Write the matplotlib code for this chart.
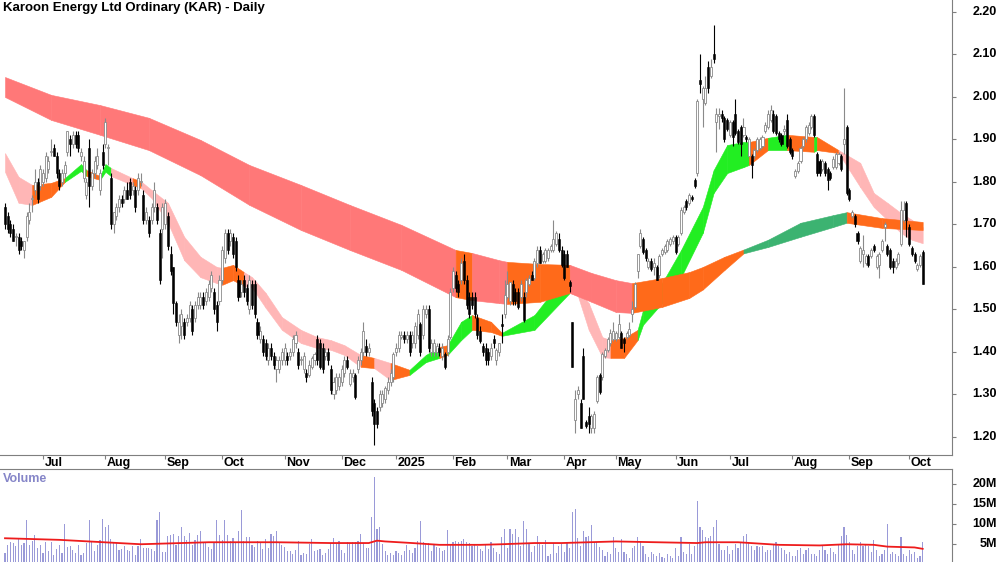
import numpy as np
import pandas as pd
import matplotlib
matplotlib.use('Agg')
import matplotlib.pyplot as plt
from matplotlib.transforms import blended_transform_factory

plt.rcParams['font.family'] = ['Liberation Sans', 'DejaVu Sans']

# --- trading calendar (ASX), one bar per trading day
asx_holidays = ['2024-12-25', '2024-12-26', '2025-01-01', '2025-01-27',
                '2025-04-18', '2025-04-21', '2025-04-25', '2025-06-09']
dates = pd.bdate_range('2024-06-11', '2025-10-08').drop(pd.to_datetime(asx_holidays))

# --- daily prices in cents
open_c = [174,172,170,169,167,167,166,164,167,171,
          176,178,180,179,180,181,183,187,188,186,
          182,180,182,187,190,189,191,191,186,181,
          177,188,179,182,184,178,187,189,188,181,
          170,172,174,176,176,178,180,178,178,178,
          180,177,171,171,171,174,174,168,169,170,
          172,163,160,151.5,144,146,147,147,148,150,
          148,151,151,153,152,153,155,154,151,152,
          157,162,168,166,167,166,157,154,157,155,
          150,156,156,147,143,143,142,138,141,139,
          136,136,138,138,139,139,140,142,140,138,
          136,135,134.5,136.5,138,143,142,141,139,140,
          136,130,131,132,133,135,138,132.5,134,134.5,
          136,138,140,141.5,140,133,128,126,127,128,
          129,131,133,134,140,141,143.5,144,143,144,
          142,142,144,146.5,144,149,150,140,140,140,
          141,139,139.5,140,143.5,155,158,156,157,161.5,
          157,153,153,153,148,145,141.5,141,140,139,
          143,138,140,146.5,149,153,152,156,154,154,
          153,153,154,156,158,157.5,161,164,161.5,161.5,
          162,164,164,165.5,166.5,164,163,163,156.5,147,
          124,130,128,139,123.5,125,122,122,128.5,134.5,
          134,139,140.5,142,143,143,143.5,144.5,143,143.5,
          144,149,150.5,159,165,166.5,164,160,161.5,160,
          160,158,163,163.5,164,165.5,166,167,165.5,168,
          173,175.5,175,176.5,180.5,182,204,199.5,198.5,207,
          205,210,194,195.5,196,195,194.5,191,194,196,
          192,193,191,190.5,186,186,186,187.5,188,188.5,
          192,193,194.5,196,195.5,191.5,191,192,194.5,190,
          187.5,181.5,182.5,185,188.5,190,191.5,193,195.5,186.5,
          185,183,184.5,183,182,183.5,183.5,184.5,186,189,
          193,178,172,172,168,161.5,163,161,162.5,162.5,
          165,160,160.5,164,169.5,165,164,161.5,160,161,
          165.5,171,175,169.5,164.5,163,159.5,160.5,163.5]
high_c = [175,173,171,170,168,168,167,166,173,175,
          177,183,181,184,183,187,186,190,189,187,
          183,183,185,192,191,192,192,192,188,186,
          181,190,183,186,188,183,189,195,189,182,
          173,175,177,177,179,180,181,180,179,182,
          182,178,174,172,175,180,175,169,175,176,
          173,165,160,152,149,150,148,149,152,151,
          152,154,154,154,155,157,159,155,152,158,
          165,169,169,169,168,167,158,157,158,156,
          158,157,157,148,146,144,143,142,142,140,
          139,139,141,142,140,141,144,145,141,139,
          140,136,138,139,140,144,143,142,141,141,
          137,134,135,135,137,139,139,136,136,135,
          139,141,147,143,142,134,129,127,131,131,
          132,134,136,140,142,145,145,145,145,145,
          145,147,150,147,151,151,151,143,143,142,
          142,142,140,144,155,160,159,157,162,163,
          158,154,154,154,149,146,142,142,141,142,
          144,141,142,149,157,159,156.5,157,155,155,
          157,154,157.5,158,159,162,165,165,163.5,164.5,
          164.5,165.5,171,168.5,168,165,164,164,157,147,
          131,132,129,141,124,127,125.5,126,134.5,135,
          140,141,143.5,145.5,147,145,149,145,143.5,145,
          147,152,156.5,163,169,167,164.5,162,162,162,
          160.5,163,164.5,165.5,166.5,167,167.5,167.5,167.5,174,
          174.5,176,177.5,177,181,199.5,210,202.5,205,208.5,
          209,217,197.5,197.5,197,195.5,195,194.5,194.5,199.5,
          192.5,193.5,195,191,190.5,186.5,188,190.5,190.5,191,
          194,197,198,197,196,192,191.5,193.5,196,190.5,
          188,183,185,188.5,190.5,193.5,194,196,196,187,
          185.5,185.5,185,183.5,182.5,186,187,187,186.5,202,
          193.5,178.5,173.5,172.5,168.5,165,167.5,163,163,164.5,
          165.5,163,163.5,166.5,170.5,165.5,164.5,162,162,163.5,
          175.5,175.5,175.5,170,165,163.5,161,163,164]
low_c = [169,168,167,166,165,163,164,162,166,170,
         173,177,175,178,179,180,182,186,186,181,
         178,179,181,186,186,188,188,187,185,180,
         176,174,178,181,183,177,183,188,184,169,
         168,171,173,174,175,176,176,177,173,177,
         179,170,170,167,170,173,170,156,162,169,
         164,158,149,146,142,143,143,146,147,144,
         147,150,150,150,151,152,154,149,145,151,
         156,161,163,165,162,159,152,153,153,151,
         149,150,148,143,142,139,138,137,138,136,
         133,135,137,137,137,138,139,141,136,137,
         135,133,134,136,137,137,136,135,138,137,
         130,129,130,131,132,134,136,132,133,129,
         135,137,139,139,139,125,118,122,126,127,
         128,130,132,133,139,140,143,142,142,139,
         141,141,143,139,143,148,140,139,139,139,
         139,138,136,139,143,154,154,153,156,156,
         150,148,150,148,143,142,139,137,137,138,
         141,137,139,142,148,152.5,151,151,151,150,
         152,147,153,155.5,157,157,160,161,161,161,
         161.5,163.5,163.5,165,163.5,160,157,160,154,136.5,
         121,129,122,129,122,121,121,121,128,130,
         133.5,138.5,140,141.5,142.5,142.5,143,141,140,143,
         143.5,147,150,157.5,164.5,163,161.5,159.5,159,158,
         157,157.5,162.5,163,163.5,165,165.5,163,165,167.5,
         172.5,173.5,174.5,175.5,178.5,181.5,201,193,198,201,
         204.5,208,187,192.5,194,189.5,192,190.5,188.5,191,
         189,186,190.5,189.5,186,181,185.5,187,187.5,188,
         191.5,192.5,194,191.5,191,189.5,188.5,191,188,186.5,
         185.5,181,182,184.5,188,189.5,191,192.5,190.5,181.5,
         181.5,182.5,181.5,178,180.5,183,183,184,182.5,186.5,
         177,175.5,171.5,169.5,165.5,161,160,160.5,160,162,
         163.5,159.5,157.5,163.5,166,162.5,159.5,158.5,159.5,160.5,
         165,170.5,167,165,162.5,161,159,160,156]
close_c = [170,169,168,166,167,164,165,166,172,173,
           176,180,176,183,182,186,185,187,186,182,
           179,182,184,192,189,191,189,188,187,185,
           180,179,182,185,186,182,184,194,188,170,
           173,174,176,175,178,176,177,179,174,181,
           180,171,173,168,174,178,171,157,174,175,
           165,159,151.5,147,147,149,144,148,151,145,
           151,153,153,151,154,156,158,150,147,157,
           164,168,164,168,163,160,153,156,154,152,
           157,151,149,144,145,140,139,141,139,137,
           138,138,140,141,138,140,143,144,137,138,
           139,134,137,138.5,139.5,138,136.5,136,140,138,
           131,133,134,134,136,138,136.5,135,135,129.5,
           138,140,145,140,141,126,123,123,130,130,
           131.5,133,135,139.5,141,144,144,143,144,140,
           144,146,149,140,150,150,141,142,142,141.5,
           140,141,136.5,143,154,159,155,154,161,157,
           151,149,151,149,144,142.5,140,138,138,141,
           142,140.5,142,146,153.5,156,156.5,152,152,150.5,
           156,147.5,157,157.5,157,161.5,164,161,163,164,
           164,165,166.5,168,164,160.5,157.5,160,155.5,136.5,
           129,131,122,129,122.5,123,125,125.5,134,130.5,
           139.5,140.5,143,144.5,145,144.5,146.5,141,142,144.5,
           145.5,150,156,163,168,163.5,162,161.5,159.5,161,
           157,162.5,164,165,166,166.5,167,163.5,167,173.5,
           174,174,177,176,179,199,203,202,202,202,
           207,209,196,196,195,190,192.5,194,190.5,191.5,
           189.5,189,193,190,190,184,187.5,190,190,190.5,
           193.5,196,197,192,191.5,190,189,192.5,188.5,187,
           186,182.5,184.5,188,190,193,193.5,195.5,191,182,
           182,185,182,180.5,181,185.5,186.5,186.5,183,190,
           177.5,176,173,170,166,164.5,164,162.5,160.5,164,
           164,162.5,163,166,170,163,160,160,161.5,163,
           173.5,173.5,171,165.5,163,161.5,160.5,162.5,156]

# --- daily volume, millions
volume_m = [2.65,4.75,5.4,5.2,4.35,6.4,4.75,5.2,11.0,4.75,
            5.6,7.1,3.9,4.6,2.65,5.4,3.1,5.4,2.25,3.75,
            4.75,2.65,9.9,4.1,4.35,3.5,2.65,4.75,2.25,2.65,
            5.2,11.0,5.6,3.1,4.75,6.0,11.25,9.1,9.6,6.25,
            5.4,5.2,3.5,3.75,4.35,3.5,3.1,4.35,2.25,4.35,
            6.25,3.9,3.9,3.9,3.75,3.1,11.0,12.9,2.9,2.9,
            6.85,7.25,7.4,4.75,6.85,9.1,6.85,6.0,7.7,4.75,
            6.0,7.25,8.25,5.2,5.2,4.1,3.75,5.4,11.0,7.25,
            6.0,11.0,7.25,5.6,6.4,5.2,8.1,13.5,5.75,6.6,
            6.6,4.75,4.1,5.75,5.4,3.75,6.25,3.9,7.4,6.85,
            8.1,5.4,4.75,4.1,3.1,3.1,2.4,3.5,5.75,2.25,
            2.65,2.4,4.9,6.25,3.1,3.5,3.75,2.25,2.65,3.75,
            5.2,6.4,5.2,5.75,3.5,2.65,5.4,5.2,5.4,5.4,
            5.75,7.4,5.2,3.9,3.9,11.8,21.8,8.75,9.1,4.9,
            3.1,2.25,2.65,2.25,3.1,2.65,2.25,3.1,4.6,3.5,
            2.65,3.9,5.75,10.8,5.4,5.2,5.2,3.1,4.75,4.1,
            3.9,3.1,3.5,8.5,4.75,5.4,5.75,5.4,5.75,6.25,
            5.4,5.2,4.35,4.75,4.35,3.75,3.1,4.6,3.75,5.4,
            3.9,2.9,2.4,6.6,8.75,4,8.75,7.4,8.75,6.6,
            4.5,10.6,8.75,5,3,4.5,7,5,4.8,6,
            2,2.5,5.2,2.8,4.5,5,3,5.2,4,13,
            13.7,6.5,4.5,8.3,6.6,7,9.7,5.5,5.5,4.3,
            3.5,2,3,2.5,6.7,4,3,6.3,3,2.5,
            1.5,4,4.5,6.8,5.8,4.5,2.5,1.8,3,2.5,
            2,2.8,1.8,1.5,2.5,2,1.5,4,2,6.8,
            3,2.5,5,2.5,4.5,15.7,9.3,8.5,6.7,6.5,
            7,9.3,10.9,5,3.5,3.5,4.5,2.5,3.5,5,
            4,5.5,7,7.5,5.5,4.5,3.5,4.5,4.3,4.5,
            3,3.5,3.5,5,5.5,4.5,4,3.5,2.5,3,
            2,2,3.5,4,2.5,3.5,4,2.5,2.5,2,
            3.5,4.5,3.5,2.5,4,3,2.5,5,7,9.3,
            7.3,5.5,3.5,2.5,4.5,5.5,4.5,5,4.5,3,
            6,3.5,2,2.5,3.5,10,2.5,3,2.5,2,
            6.7,2.5,2,3.5,2.5,3,1.5,2,5.4]

# volume moving average (red line), sampled at bar numbers
vma_bar = [0, 20, 50, 75, 100, 120, 134, 137, 140, 150, 160, 175, 183, 195,
           205, 215, 225, 240, 255, 258, 270, 285, 300, 310, 320, 325, 335, 338]
vma_m = [6.4, 6.0, 4.9, 5.4, 5.4, 5.2, 5.2, 5.8, 5.6, 5.2, 4.75, 4.75, 4.9, 5.2,
         5.2, 5.4, 5.6, 5.4, 5.2, 5.4, 5.4, 4.75, 4.6, 4.9, 4.75, 4.3, 4.1, 3.75]

# short-term moving average ribbon: bar, upper, lower, state of following segment
short_bar = [0, 5, 10, 17, 22, 28, 30, 35, 37, 39, 47, 50, 54, 60, 66, 72, 78, 80, 84, 88,
             91, 96, 102, 109, 115, 120, 125, 131, 136, 142, 149, 155, 160, 163, 168, 172,
             179, 183, 195, 208, 211, 215, 220, 223, 228, 233, 235, 242, 249, 257, 261,
             266, 272, 274, 281, 288, 298, 299, 307, 315, 320, 325, 330, 334, 338]
short_hi = [1.868, 1.812, 1.793, 1.798, 1.809, 1.842, 1.828, 1.814, 1.842, 1.833, 1.809,
            1.802, 1.781, 1.751, 1.671, 1.624, 1.600, 1.598, 1.605, 1.588, 1.576, 1.539,
            1.482, 1.452, 1.435, 1.428, 1.416, 1.393, 1.386, 1.374, 1.358, 1.393, 1.412,
            1.416, 1.471, 1.487, 1.471, 1.445, 1.487, 1.593, 1.546, 1.515, 1.435, 1.428,
            1.433, 1.452, 1.499, 1.562, 1.640, 1.741, 1.828, 1.887, 1.894, 1.894, 1.904,
            1.911, 1.906, 1.906, 1.875, 1.845, 1.774, 1.751, 1.727, 1.711, 1.694]
short_lo = [1.824, 1.751, 1.746, 1.765, 1.800, 1.826, 1.814, 1.805, 1.824, 1.814, 1.793,
            1.786, 1.762, 1.704, 1.616, 1.576, 1.562, 1.558, 1.569, 1.555, 1.551, 1.504,
            1.452, 1.421, 1.409, 1.405, 1.393, 1.365, 1.362, 1.334, 1.346, 1.376, 1.386,
            1.393, 1.428, 1.452, 1.447, 1.438, 1.452, 1.539, 1.532, 1.452, 1.388, 1.386,
            1.386, 1.428, 1.464, 1.515, 1.576, 1.680, 1.774, 1.821, 1.835, 1.840, 1.875,
            1.875, 1.871, 1.875, 1.868, 1.788, 1.741, 1.711, 1.680, 1.664, 1.656]
short_state = "ppooGGoGGp" "oppppppoop" "pppppppopo" "GGoGGooGGp" "pppooGGGGG" "GGGoGoGopp" "pppp"

# long-term moving average ribbon
long_bar = [0, 17, 35, 53, 72, 90, 109, 127, 146, 166, 172, 182, 185, 197, 208, 216, 225,
            231, 242, 252, 257, 265, 272, 281, 293, 305, 310, 323, 338]
long_hi = [2.047, 2.005, 1.981, 1.951, 1.899, 1.840, 1.793, 1.746, 1.699, 1.640, 1.633,
           1.616, 1.612, 1.607, 1.605, 1.586, 1.569, 1.562, 1.574, 1.588, 1.600, 1.624,
           1.641, 1.664, 1.704, 1.722, 1.729, 1.715, 1.706]
long_lo = [2.000, 1.946, 1.911, 1.875, 1.816, 1.746, 1.687, 1.640, 1.593, 1.529, 1.522,
           1.515, 1.513, 1.518, 1.539, 1.518, 1.494, 1.492, 1.506, 1.527, 1.547, 1.593,
           1.632, 1.647, 1.671, 1.694, 1.704, 1.692, 1.687]
long_state = "rrrrrrrrrorroorrroooooggggoo"

price_ticks = [1.20, 1.30, 1.40, 1.50, 1.60, 1.70, 1.80, 1.90, 2.00, 2.10, 2.20]
vol_ticks = [5, 10, 15, 20]

ribbon_col = {'r': '#ff7878', 'o': '#ff6a1a', 'g': '#3cb371', 'p': '#ffb6b6', 'G': '#22ee22'}
axis_col = '#7f7f7f'

o = np.array(open_c) / 100
h = np.array(high_c) / 100
l = np.array(low_c) / 100
c = np.array(close_c) / 100
vol = np.array(volume_m) * 1e6
x = np.arange(len(c))

fig = plt.figure(figsize=(10, 5.62), dpi=100)
ax = fig.add_axes([0, 107 / 562, 0.952, 455 / 562])
axv = fig.add_axes([0, 0, 0.952, 93 / 562])

# ribbons (short first, long drawn over it)
for k in range(len(short_bar) - 1):
    col = ribbon_col[short_state[k]]
    ax.fill_between(short_bar[k:k + 2], short_lo[k:k + 2], short_hi[k:k + 2],
                    facecolor=col, edgecolor=col, linewidth=0.4, zorder=1)
for k in range(len(long_bar) - 1):
    col = ribbon_col[long_state[k]]
    ax.fill_between(long_bar[k:k + 2], long_lo[k:k + 2], long_hi[k:k + 2],
                    facecolor=col, edgecolor=col, linewidth=0.4, zorder=2)

# candles
up = c >= o
ax.vlines(x[up], l[up], h[up], color='#8a8a8a', lw=0.8, zorder=3)
ax.vlines(x[~up], l[~up], h[~up], color='black', lw=0.8, zorder=3)
body_lo = np.minimum(o, c)
body_h = np.maximum(np.abs(c - o), 0.003)
ax.bar(x[up], body_h[up], bottom=body_lo[up], width=0.75, color='white',
       edgecolor='#8a8a8a', linewidth=0.6, zorder=4)
ax.bar(x[~up], body_h[~up], bottom=body_lo[~up], width=0.75, color='black',
       edgecolor='black', linewidth=0.4, zorder=4)

xlim = (-1.84, 348.8)
ax.set_xlim(*xlim)
ax.set_ylim(1.1576, 2.2282)

# volume panel
axv.bar(x, vol, width=0.42, color='#9a9ad8', zorder=2)
axv.plot(vma_bar, np.array(vma_m) * 1e6, color='#ee1c1c', lw=1.3, zorder=3)
axv.set_xlim(*xlim)
axv.set_ylim(0.45e6, 23.75e6)

# month ticks on the strip below the price panel
month_idx = [k for k in range(1, len(dates)) if dates[k].month != dates[k - 1].month]
month_lab = ['2025' if dates[k].month == 1 else dates[k].strftime('%b') for k in month_idx]
ax.set_xticks(month_idx)
ax.set_xticklabels([])
ax.tick_params(axis='x', direction='out', length=3, color=axis_col, width=0.8)
tr = blended_transform_factory(ax.transData, ax.transAxes)
for k, lab in zip(month_idx, month_lab):
    ax.text(k + 0.6, -0.0165, lab, transform=tr, ha='left', va='center',
            fontsize=9, fontweight='bold')

for a in (ax, axv):
    a.spines['left'].set_visible(False)
    a.spines['right'].set_color(axis_col)
    a.yaxis.tick_right()
    a.tick_params(axis='y', direction='out', length=3, color=axis_col, width=0.8,
                  labelright=False)
ax.spines['top'].set_visible(False)
ax.spines['bottom'].set_color(axis_col)
axv.spines['top'].set_color(axis_col)
axv.spines['bottom'].set_visible(False)
axv.set_xticks([])

ax.set_yticks(price_ticks)
axv.set_yticks([v * 1e6 for v in vol_ticks])
trp = blended_transform_factory(fig.transFigure, ax.transData)
for p in price_ticks:
    ax.text(0.997, p, '%.2f' % p, transform=trp, ha='right', va='center',
            fontsize=9, fontweight='bold', clip_on=False)
trv = blended_transform_factory(fig.transFigure, axv.transData)
for v in vol_ticks:
    axv.text(0.997, v * 1e6, '%dM' % v, transform=trv, ha='right', va='center',
             fontsize=9, fontweight='bold', clip_on=False)

fig.text(0.003, 1 - 8 / 562, 'Karoon Energy Ltd Ordinary (KAR) - Daily',
         fontsize=9.5, fontweight='bold', ha='left', va='center')
fig.text(0.003, 1 - 479 / 562, 'Volume', color='#8585c8',
         fontsize=9, fontweight='bold', ha='left', va='center')

fig.savefig('out.png', dpi=100)
